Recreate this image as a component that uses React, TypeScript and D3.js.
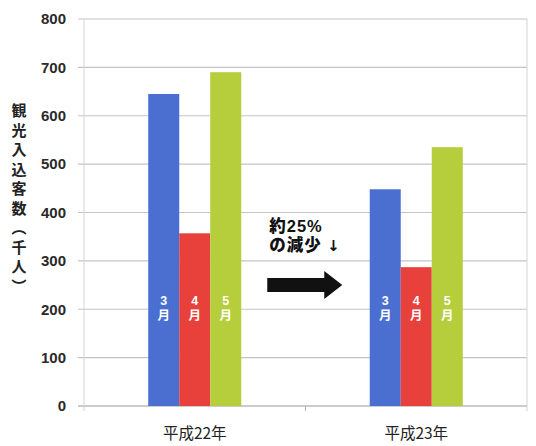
import { useEffect, useRef } from "react";
import * as d3 from "d3";

// ----- Data ---------------------------------------------------------------
const years = ["平成22年", "平成23年"];
const months = ["3月", "4月", "5月"];
const monthDigits = ["3", "4", "5"];
const visitors22 = [645, 357, 690];
const visitors23 = [448, 287, 535];
const yTicks = [0, 100, 200, 300, 400, 500, 600, 700, 800];
const yTitle = "観光入込客数（千人）";
const noteLines = ["約25%", "の減少 "];
const noteArrow = "↓";

const monthColors = ["#4a6fd1", "#e8403a", "#b6cd3c"];

const W = 536;
const H = 446;

const App = () => {
  const svgRef = useRef<SVGSVGElement | null>(null);

  useEffect(() => {
    const svg = d3.select(svgRef.current);
    svg.selectAll("*").remove();

    const margin = { top: 19, right: 9, bottom: 40, left: 84 };
    const innerW = W - margin.left - margin.right;
    const innerH = H - margin.top - margin.bottom;
    const font = "'Noto Sans CJK JP', 'Noto Sans', sans-serif";
    const latin = "'Liberation Sans', 'Noto Sans CJK JP', sans-serif";

    svg.append("rect").attr("width", W).attr("height", H).attr("fill", "#fff");

    const g = svg
      .append("g")
      .attr("transform", `translate(${margin.left},${margin.top})`);

    const x0 = d3.scaleBand().domain(years).range([0, innerW]).paddingInner(0.58).paddingOuter(0.29);
    const x1 = d3.scaleBand().domain(months).range([0, x0.bandwidth()]).padding(0);
    const y = d3.scaleLinear().domain([0, 800]).range([innerH, 0]);

    // ----- Grid -----------------------------------------------------------
    g.append("g")
      .selectAll("line")
      .data(yTicks)
      .join("line")
      .attr("x1", -6)
      .attr("x2", innerW)
      .attr("y1", (d) => y(d))
      .attr("y2", (d) => y(d))
      .attr("stroke", (d) => (d === 0 ? "#9a9a9a" : "#c4c4c4"))
      .attr("stroke-width", 1.2);

    // frame verticals
    [0, innerW].forEach((xx) => {
      g.append("line")
        .attr("x1", xx)
        .attr("x2", xx)
        .attr("y1", 0)
        .attr("y2", innerH + 5)
        .attr("stroke", "#d4d4d4")
        .attr("stroke-width", 1);
    });
    // category divider tick
    g.append("line")
      .attr("x1", innerW / 2)
      .attr("x2", innerW / 2)
      .attr("y1", innerH)
      .attr("y2", innerH + 5)
      .attr("stroke", "#b0b0b0");

    // ----- Y tick labels --------------------------------------------------
    g.append("g")
      .selectAll("text")
      .data(yTicks)
      .join("text")
      .attr("x", -18)
      .attr("y", (d) => y(d))
      .attr("dy", "0.35em")
      .attr("text-anchor", "end")
      .attr("font-family", latin)
      .attr("font-size", 15)
      .attr("font-weight", "bold")
      .attr("fill", "#2a2a2a")
      .text((d) => d);

    // ----- Bars -----------------------------------------------------------
    const series = [visitors22, visitors23];
    years.forEach((yr, i) => {
      const grp = g.append("g").attr("transform", `translate(${x0(yr)},0)`);
      months.forEach((m, j) => {
        const bx = x1(m) as number;
        grp
          .append("rect")
          .attr("x", bx)
          .attr("y", y(series[i][j]))
          .attr("width", x1.bandwidth())
          .attr("height", innerH - y(series[i][j]))
          .attr("fill", monthColors[j]);
        const cx = bx + x1.bandwidth() / 2;
        // stacked month label: digit over 月
        const lbl = grp
          .append("text")
          .attr("text-anchor", "middle")
          .attr("font-family", latin)
          .attr("font-size", 12.5)
          .attr("font-weight", "bold")
          .attr("fill", "#fff");
        lbl.append("tspan").attr("x", cx).attr("y", y(200) - 4).text(monthDigits[j]);
        lbl.append("tspan").attr("x", cx).attr("y", y(200) + 11).text("月");
      });
    });

    // ----- Category labels ------------------------------------------------
    g.append("g")
      .selectAll("text")
      .data(years)
      .join("text")
      .attr("x", (d) => (x0(d) as number) + x0.bandwidth() / 2)
      .attr("y", innerH + 33)
      .attr("text-anchor", "middle")
      .attr("font-family", font)
      .attr("font-size", 15.5)
      .attr("fill", "#222")
      .text((d) => d);

    // ----- Y title (vertical) ---------------------------------------------
    const title = svg
      .append("text")
      .attr("font-family", font)
      .attr("font-size", 15)
      .attr("font-weight", "bold")
      .attr("fill", "#222")
      .attr("text-anchor", "middle");
    Array.from(yTitle).forEach((ch, k) => {
      const rot = ch === "（" || ch === "）";
      title
        .append("tspan")
        .attr("x", 19)
        .attr("y", 116 + k * 19.5)
        .text(rot ? (ch === "（" ? "︵" : "︶") : ch);
    });

    // ----- Annotation -----------------------------------------------------
    const noteX = x0.bandwidth() + (x0(years[0]) as number) + 28;
    const note = g
      .append("text")
      .attr("font-family", latin)
      .attr("font-size", 16.5)
      .attr("font-weight", 900)
      .attr("letter-spacing", 1)
      .attr("fill", "#111");
    noteLines.forEach((t, k) => {
      note.append("tspan").attr("x", noteX).attr("y", y(360) + k * 19).text(t);
    });
    note
      .append("tspan")
      .attr("font-family", "'DejaVu Sans', sans-serif")
      .attr("font-size", 15)
      .attr("font-weight", "bold")
      .text(noteArrow);

    const ay = y(250);
    const ax = noteX - 2;
    const arrow = d3.path();
    arrow.moveTo(ax, ay - 7);
    arrow.lineTo(ax + 57, ay - 7);
    arrow.lineTo(ax + 57, ay - 14);
    arrow.lineTo(ax + 75, ay);
    arrow.lineTo(ax + 57, ay + 14);
    arrow.lineTo(ax + 57, ay + 7);
    arrow.lineTo(ax, ay + 7);
    arrow.closePath();
    g.append("path").attr("d", arrow.toString()).attr("fill", "#111");
  }, []);

  return (
    <div style={{ position: "absolute", left: 0, top: 0 }}>
      <svg ref={svgRef} width={W} height={H} style={{ display: "block" }} />
    </div>
  );
};

export default App;
